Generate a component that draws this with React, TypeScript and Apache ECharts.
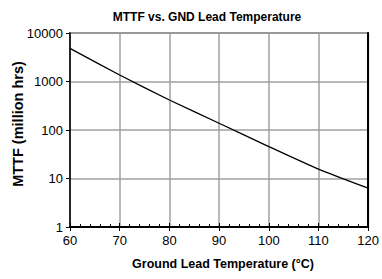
import React, { useEffect, useRef } from "react";
import * as echarts from "echarts";

const temps = [60, 70, 80, 90, 100, 110, 120];
const mttf = [4820, 1360, 416, 138, 45.5, 15.6, 6.3];
const titleText = "MTTF vs. GND Lead Temperature";
const xName = "Ground Lead Temperature (°C)";
const yName = "MTTF (million hrs)";

const FONT = "'Liberation Sans', Arial, sans-serif";

export default function App() {
  const ref = useRef<HTMLDivElement>(null);
  useEffect(() => {
    if (!ref.current) return;
    const chart = echarts.init(ref.current, null, { renderer: "svg" });
    const data = temps.map((t, i) => [t, mttf[i]]);
    chart.setOption({
      animation: false,
      backgroundColor: "#ffffff",
      grid: {
        left: 70,
        right: 7.5,
        top: 33,
        bottom: 52,
        show: true,
        borderColor: "#808080",
        borderWidth: 2,
        backgroundColor: "transparent",
      },
      xAxis: [
        {
          type: "value",
          min: 60,
          max: 120,
          interval: 10,
          position: "bottom",
          axisLine: { show: true, lineStyle: { color: "#000", width: 2 } },
          axisTick: { show: true, inside: true, length: 4, lineStyle: { color: "#000" } },
          minorTick: { show: true, splitNumber: 5, length: 3, lineStyle: { color: "#000" } },
          splitLine: { show: true, lineStyle: { color: "#a0a0a0", width: 1.5 } },
          axisLabel: {
            margin: 7,
            color: "#000",
            fontSize: 13,
            fontFamily: FONT,
          },
        },
        {
          type: "value",
          min: 60,
          max: 120,
          interval: 10,
          position: "bottom",
          axisLine: { show: false },
          axisTick: { show: true, inside: false, length: 4, lineStyle: { color: "#000" } },
          splitLine: { show: false },
          axisLabel: { show: false },
        },
      ],
      yAxis: [
        {
          type: "log",
          logBase: 10,
          min: 1,
          max: 10000,
          axisLine: { show: true, lineStyle: { color: "#000", width: 1.5 } },
          axisTick: { show: true, inside: false, length: 4, lineStyle: { color: "#000" } },
          splitLine: { show: true, lineStyle: { color: "#a0a0a0", width: 1.5 } },
          axisLabel: {
            margin: 7,
            color: "#000",
            fontSize: 13,
            fontFamily: FONT,
            formatter: (v: number) => String(Math.round(v)),
          },
        },
        {
          type: "log",
          logBase: 10,
          min: 1,
          max: 10000,
          position: "right",
          axisLine: { show: true, lineStyle: { color: "#000", width: 2 } },
          axisTick: { show: false },
          splitLine: { show: false },
          axisLabel: { show: false },
        },
      ],
      series: [
        {
          type: "line",
          data,
          xAxisIndex: 0,
          yAxisIndex: 0,
          showSymbol: false,
          smooth: 0.2,
          lineStyle: { color: "#000", width: 1.3 },
        },
      ],
      graphic: [
        {
          type: "text",
          x: 207,
          y: 17,
          style: {
            text: titleText,
            fill: "#000",
            fontSize: 12,
            fontWeight: "bold",
            fontFamily: FONT,
            textAlign: "center",
            textVerticalAlign: "middle",
            align: "center",
            verticalAlign: "middle",
          },
        },
        {
          type: "text",
          x: 223,
          y: 264,
          style: {
            text: xName,
            fill: "#000",
            fontSize: 12.5,
            fontWeight: "bold",
            fontFamily: FONT,
            textAlign: "center",
            textVerticalAlign: "middle",
            align: "center",
            verticalAlign: "middle",
          },
        },
        {
          type: "text",
          x: 18,
          y: 124,
          rotation: Math.PI / 2,
          style: {
            text: yName,
            fill: "#000",
            fontSize: 14.5,
            fontWeight: "bold",
            fontFamily: FONT,
            textAlign: "center",
            textVerticalAlign: "middle",
            align: "center",
            verticalAlign: "middle",
          },
        },
      ],
    });
    return () => chart.dispose();
  }, []);
  return (
    <div
      ref={ref}
      style={{ position: "fixed", left: 0, top: 0, width: 382, height: 279 }}
    />
  );
}
